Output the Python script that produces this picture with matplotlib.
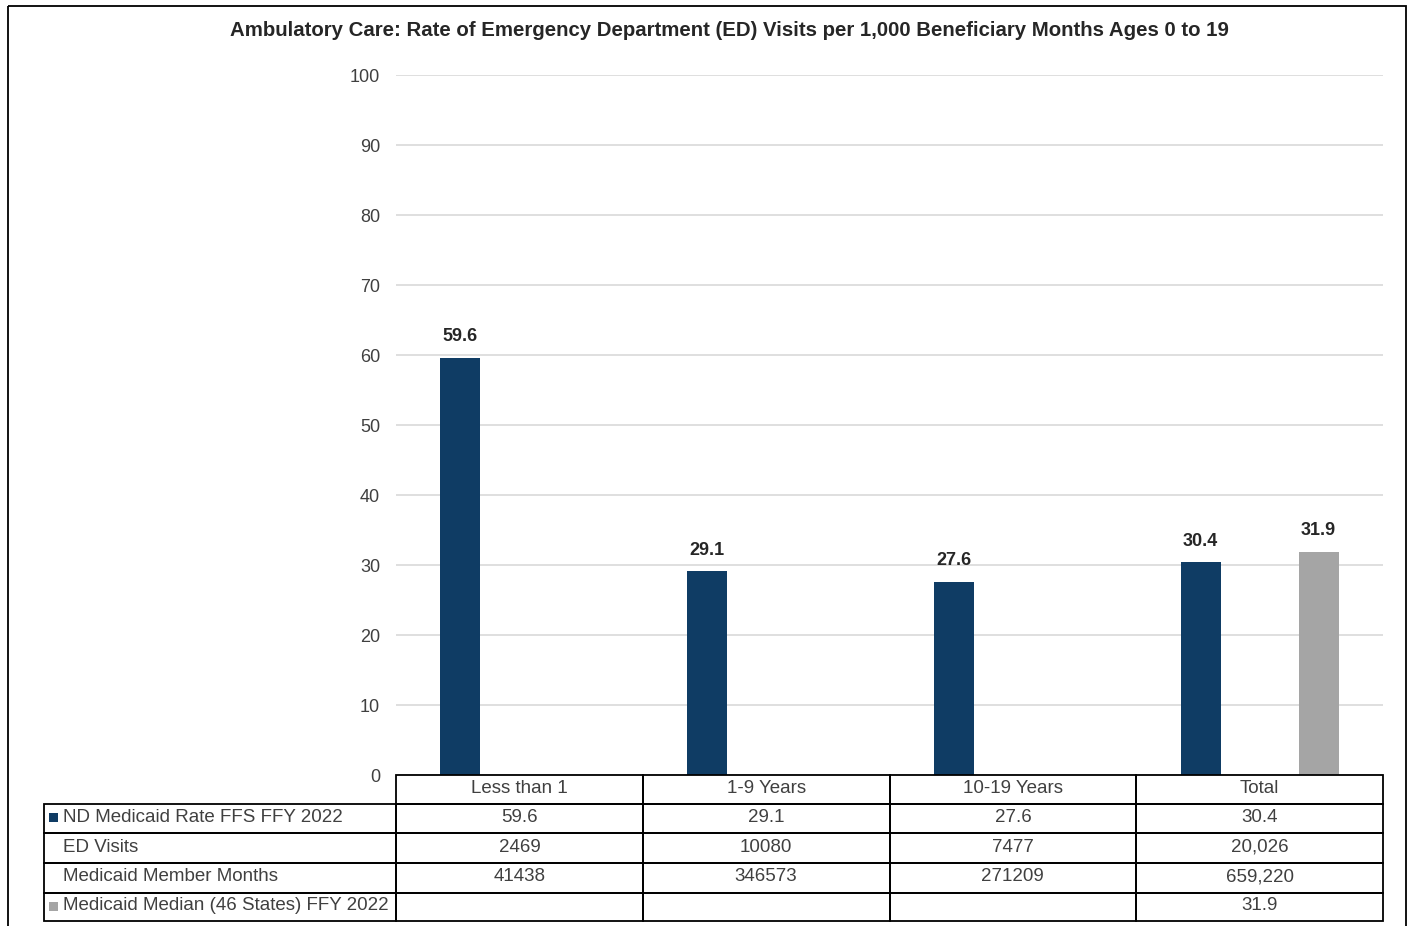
import numpy as np
import matplotlib
matplotlib.use('Agg')
import matplotlib.pyplot as plt
from matplotlib.patches import Rectangle

# ---------------- data ----------------
title = "Ambulatory Care: Rate of Emergency Department (ED) Visits per 1,000 Beneficiary Months Ages 0 to 19"
categories = ["Less than 1", "1-9 Years", "10-19 Years", "Total"]
nd_rate = [59.6, 29.1, 27.6, 30.4]
median_rate = [np.nan, np.nan, np.nan, 31.9]
ed_visits = ["2469", "10080", "7477", "20,026"]
member_months = ["41438", "346573", "271209", "659,220"]
row_labels = ["ND Medicaid Rate FFS FFY 2022", "ED Visits",
              "Medicaid Member Months", "Medicaid Median (46 States) FFY 2022"]
y_ticks = list(range(0, 101, 10))

# ---------------- style ----------------
NAVY = '#0f3c64'
GRAY = '#a5a5a5'
GRID = '#d9d9d9'
TXT = '#404040'
DARK = '#262626'

plt.rcParams['font.family'] = ['Liberation Sans', 'DejaVu Sans']

W, H = 1410, 926
fig = plt.figure(figsize=(W / 100, H / 100), dpi=100)


def px(x0, y0, x1, y1):
    return [x0 / W, 1 - y1 / H, (x1 - x0) / W, (y1 - y0) / H]


AX_L, AX_T, AX_R, AX_B = 396, 75, 1383, 775
ax = fig.add_axes(px(AX_L, AX_T, AX_R, AX_B))
x = np.arange(len(categories))
bw = 0.162
off = 0.239
b1 = ax.bar(x - off, nd_rate, width=bw, color=NAVY, zorder=3)
b2 = ax.bar(x + off, median_rate, width=bw, color=GRAY, zorder=3)
ax.bar_label(b1, labels=[f"{v:.1f}" for v in nd_rate], padding=9,
             fontsize=13, fontweight='bold', color=DARK)
ax.bar_label(b2, labels=["" if np.isnan(v) else f"{v:.1f}" for v in median_rate],
             padding=9, fontsize=13, fontweight='bold', color=DARK)

ax.set_xlim(-0.5, len(categories) - 0.5)
ax.set_ylim(0, 100)
ax.set_yticks(y_ticks)
ax.set_yticklabels([str(t) for t in y_ticks], fontsize=13, color=TXT)
ax.set_xticks([])
ax.tick_params(axis='y', length=0, pad=11.5)
for lab in ax.get_yticklabels():
    lab.set_y(lab.get_position()[1])
ax.yaxis.grid(True, color=GRID, linewidth=1.2, zorder=0)
for s in ax.spines.values():
    s.set_visible(False)
ax.set_facecolor('none')

fig.text(729 / W, 1 - 31 / H, title, ha='center', va='center',
         fontsize=14.7, fontweight='bold', color=DARK)

# ---------------- table ----------------
tab = fig.add_axes([0, 0, 1, 1], zorder=5)
tab.set_xlim(0, W)
tab.set_ylim(H, 0)
tab.axis('off')

ncol = len(categories)
col_edges = [AX_L + (AX_R - AX_L) * i / ncol for i in range(ncol + 1)]
LBL_L = 44
row_edges = [775, 803.5, 833, 863, 892.5, 921]
lw = 1.3
FS = 13.5

# header row
for i, c in enumerate(categories):
    tab.add_patch(Rectangle((col_edges[i], row_edges[0]), col_edges[i + 1] - col_edges[i],
                            row_edges[1] - row_edges[0], fill=False, ec='black', lw=lw))
    tab.text((col_edges[i] + col_edges[i + 1]) / 2, (row_edges[0] + row_edges[1]) / 2 - 0.5, c,
             ha='center', va='center', fontsize=FS, color=TXT)

rows = [[f"{v:.1f}" for v in nd_rate], ed_visits, member_months,
        ["" if np.isnan(v) else f"{v:.1f}" for v in median_rate]]
markers = [NAVY, None, None, GRAY]
for r in range(4):
    y0, y1 = row_edges[r + 1], row_edges[r + 2]
    yc = (y0 + y1) / 2 - 1
    tab.add_patch(Rectangle((LBL_L, y0), AX_L - LBL_L, y1 - y0, fill=False, ec='black', lw=lw))
    if markers[r]:
        tab.add_patch(Rectangle((49, yc - 4), 8.5, 9, color=markers[r], lw=0))
    tab.text(63, yc, row_labels[r], ha='left', va='center', fontsize=FS, color=TXT)
    for i in range(ncol):
        tab.add_patch(Rectangle((col_edges[i], y0), col_edges[i + 1] - col_edges[i], y1 - y0,
                                fill=False, ec='black', lw=lw))
        tab.text((col_edges[i] + col_edges[i + 1]) / 2, yc, rows[r][i],
                 ha='center', va='center', fontsize=FS, color=TXT)

# outer border
tab.add_patch(Rectangle((8, 6), 1398, 940, fill=False, ec='black', lw=1.3, clip_on=False))

fig.savefig('out.png', dpi=100)
